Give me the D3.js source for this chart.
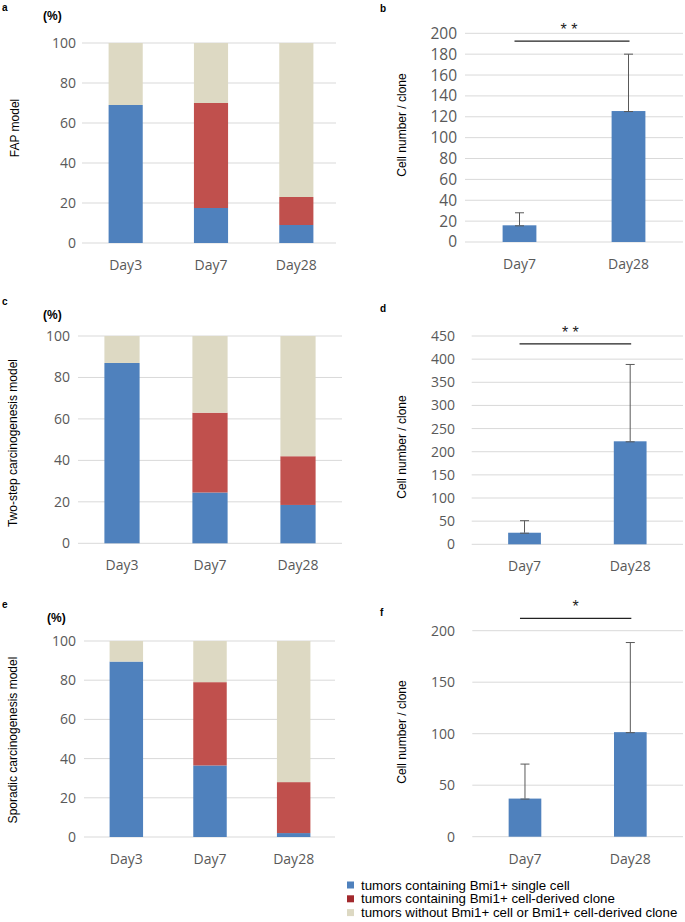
<!DOCTYPE html>
<html><head><meta charset="utf-8">
<script src="https://cdn.jsdelivr.net/npm/d3@7"></script>
<style>
html,body{margin:0;padding:0;background:#fff;}
svg{display:block;}
</style></head>
<body>
<svg id="chart" width="685" height="922"></svg>
<script>
// ---------------- DATA ----------------
const daysStacked = ["Day3", "Day7", "Day28"];
const daysBar = ["Day7", "Day28"];
const pctTicks = [0, 20, 40, 60, 80, 100];
const seriesKeys = ["single", "clone", "without"];
const legendLabels = [
  "tumors containing Bmi1+ single cell",
  "tumors containing Bmi1+ cell-derived clone",
  "tumors without Bmi1+ cell or Bmi1+ cell-derived clone"
];

// panel a: FAP model (%)
const aSingle  = [69, 17.5, 9];
const aClone   = [0, 52.5, 14];
const aWithout = [31, 30, 77];
// panel c: Two-step carcinogenesis model (%)
const cSingle  = [87, 24.5, 18.5];
const cClone   = [0, 38.5, 23.5];
const cWithout = [13, 37, 58];
// panel e: Sporadic carcinogenesis model (%)
const eSingle  = [89.5, 36.5, 2];
const eClone   = [0, 42.5, 26];
const eWithout = [10.5, 21, 72];

// panel b: cell number / clone
const bMean = [16, 125.5];
const bErr  = [12, 54.5];
const bTicks = [0, 20, 40, 60, 80, 100, 120, 140, 160, 180, 200];
const bSig = {level: 192.5, label: "* *"};
// panel d
const dMean = [25, 222.5];
const dErr  = [26, 166];
const dTicks = [0, 50, 100, 150, 200, 250, 300, 350, 400, 450];
const dSig = {level: 433, label: "* *"};
// panel f
const fMean = [37, 101.5];
const fErr  = [33.5, 87];
const fTicks = [0, 50, 100, 150, 200];
const fSig = {level: 212, label: "*"};

// ---------------- STYLE ----------------
const colors = {single: "#4f81bd", clone: "#c0504d", without: "#ddd9c3"};
const legendColors = ["#4f81bd", "#a2292d", "#ddd9c3"];
const gridColor = "#d9d9d9";
const tickColor = "#595959";
const tickFont = "'Open Sans', sans-serif";
const labelFont = "'Liberation Sans', Arial, sans-serif";

const svg = d3.select("#chart");

function letter(txt, x, y) {
  svg.append("text").attr("x", x).attr("y", y).text(txt)
    .attr("font-family", labelFont).attr("font-weight", "bold")
    .attr("font-size", 10).attr("fill", "#000");
}
function rotLabel(txt, cx, cy) {
  svg.append("text").attr("transform", `translate(${cx},${cy}) rotate(-90)`)
    .attr("text-anchor", "middle").attr("dy", "0.35em").text(txt)
    .attr("font-family", labelFont).attr("font-size", 12).attr("fill", "#000");
}
function styleAxis(ax, size) {
  ax.select(".domain").remove();
  ax.selectAll("line").remove();
  ax.selectAll("text").attr("font-family", tickFont).attr("font-size", size || 14).attr("fill", tickColor);
}

function stackedPanel(cfg, single, clone, without) {
  const g = svg.append("g");
  const x = d3.scaleBand().domain(daysStacked).range([cfg.xl, cfg.xr]).paddingInner(0.6).paddingOuter(0.3);
  const y = d3.scaleLinear().domain([0, 100]).range([cfg.yb, cfg.yt]);
  g.selectAll(".grid").data(pctTicks).join("line")
    .attr("x1", cfg.gl).attr("x2", cfg.gr)
    .attr("y1", d => y(d)).attr("y2", d => y(d))
    .attr("stroke", gridColor).attr("stroke-width", 1);
  const rows = daysStacked.map((d, i) => ({day: d, single: single[i], clone: clone[i], without: without[i]}));
  const stacked = d3.stack().keys(seriesKeys)(rows);
  g.selectAll(".layer").data(stacked).join("g").attr("fill", s => colors[s.key])
    .selectAll("rect").data(s => s).join("rect")
    .attr("x", d => x(d.data.day)).attr("width", x.bandwidth())
    .attr("y", d => y(d[1])).attr("height", d => y(d[0]) - y(d[1]));
  const ay = g.append("g").attr("transform", `translate(${cfg.tickRight},0)`)
    .call(d3.axisLeft(y).tickValues(pctTicks).tickSize(0).tickPadding(0));
  styleAxis(ay, 14);
  const ax = g.append("g").attr("transform", `translate(0,${cfg.yb})`)
    .call(d3.axisBottom(x).tickSize(0).tickPadding(17));
  styleAxis(ax, 14);
  g.append("text").attr("x", cfg.pctX).attr("y", cfg.pctY).text("(%)")
    .attr("font-family", labelFont).attr("font-weight", "bold").attr("font-size", 12).attr("fill", "#000");
  letter(cfg.letter, cfg.lx, cfg.ly);
  rotLabel(cfg.title, cfg.tx, cfg.ty);
}

function barPanel(cfg, mean, err, ticks, sig) {
  const g = svg.append("g");
  const x = d3.scaleBand().domain(daysBar).range([cfg.xl, cfg.xr]).paddingInner(0.69).paddingOuter(0.345);
  const y = d3.scaleLinear().domain([0, cfg.ymax]).range([cfg.yb, cfg.yt]);
  g.selectAll(".grid").data(ticks).join("line")
    .attr("x1", cfg.xl).attr("x2", cfg.xr)
    .attr("y1", d => y(d)).attr("y2", d => y(d))
    .attr("stroke", gridColor).attr("stroke-width", 1);
  const rows = daysBar.map((d, i) => ({day: d, mean: mean[i], err: err[i]}));
  g.selectAll(".bar").data(rows).join("rect")
    .attr("x", d => x(d.day)).attr("width", x.bandwidth())
    .attr("y", d => y(d.mean)).attr("height", d => y(0) - y(d.mean))
    .attr("fill", colors.single);
  const cx = d => x(d.day) + x.bandwidth() / 2;
  const eb = g.selectAll(".err").data(rows).join("g").attr("stroke", tickColor).attr("stroke-width", 1);
  eb.append("line").attr("x1", cx).attr("x2", cx).attr("y1", d => y(d.mean)).attr("y2", d => y(d.mean + d.err));
  eb.append("line").attr("x1", d => cx(d) - 4.5).attr("x2", d => cx(d) + 4.5)
    .attr("y1", d => y(d.mean + d.err)).attr("y2", d => y(d.mean + d.err));
  eb.append("line").attr("x1", d => cx(d) - 4.5).attr("x2", d => cx(d) + 4.5)
    .attr("y1", d => y(d.mean) + 0.5).attr("y2", d => y(d.mean) + 0.5);
  // significance
  const x1 = cx(rows[0]) - 5, x2 = cx(rows[1]) + 1;
  g.append("line").attr("x1", x1).attr("x2", x2).attr("y1", y(sig.level)).attr("y2", y(sig.level))
    .attr("stroke", "#222").attr("stroke-width", 1.2);
  g.append("text").attr("x", (x1 + x2) / 2 + cfg.starDx).attr("y", y(sig.level) - 6)
    .attr("text-anchor", "middle").text(sig.label)
    .attr("font-family", labelFont).attr("font-size", 16).attr("fill", "#222");
  const ay = g.append("g").attr("transform", `translate(${cfg.tickRight},0)`)
    .call(d3.axisLeft(y).tickValues(ticks).tickSize(0).tickPadding(0));
  styleAxis(ay, cfg.tickSize);
  const ax = g.append("g").attr("transform", `translate(0,${cfg.yb})`)
    .call(d3.axisBottom(x).tickSize(0).tickPadding(17));
  styleAxis(ax, 14);
  letter(cfg.letter, cfg.lx, cfg.ly);
  rotLabel("Cell number / clone", cfg.tx, cfg.ty);
}

stackedPanel({xl: 83, xr: 339, gl: 82, gr: 336, yb: 243, yt: 43, tickRight: 76,
  pctX: 43, pctY: 20, letter: "a", lx: 2, ly: 11, title: "FAP model", tx: 15, ty: 128},
  aSingle, aClone, aWithout);
stackedPanel({xl: 78, xr: 342, gl: 78, gr: 342, yb: 543.3, yt: 336, tickRight: 70,
  pctX: 43, pctY: 319, letter: "c", lx: 2, ly: 305, title: "Two-step carcinogenesis model", tx: 13, ty: 443},
  cSingle, cClone, cWithout);
stackedPanel({xl: 84.5, xr: 335.5, gl: 84, gr: 335, yb: 837, yt: 641, tickRight: 76,
  pctX: 47, pctY: 622, letter: "e", lx: 2, ly: 608, title: "Sporadic carcinogenesis model", tx: 13, ty: 740},
  eSingle, eClone, eWithout);

barPanel({xl: 465, xr: 683, yb: 242, yt: 33.3, ymax: 200, tickRight: 457, tickSize: 15.5,
  letter: "b", lx: 380, ly: 12, tx: 402, ty: 125, starDx: -3}, bMean, bErr, bTicks, bSig);
barPanel({xl: 471.7, xr: 683, yb: 544.3, yt: 336, ymax: 450, tickRight: 455, tickSize: 14,
  letter: "d", lx: 380, ly: 312, tx: 402, ty: 447, starDx: -5}, dMean, dErr, dTicks, dSig);
barPanel({xl: 472.3, xr: 683, yb: 836.7, yt: 630.7, ymax: 200, tickRight: 455, tickSize: 14,
  letter: "f", lx: 380, ly: 616, tx: 402, ty: 732, starDx: 0}, fMean, fErr, fTicks, fSig);

// legend
const leg = svg.append("g");
const legItems = leg.selectAll("g").data(legendLabels).join("g")
  .attr("transform", (d, i) => `translate(347,${885 + i * 13.8})`);
legItems.append("rect").attr("x", 0).attr("y", -3.5).attr("width", 7).attr("height", 7)
  .attr("fill", (d, i) => legendColors[i]);
legItems.append("text").attr("x", 14).attr("dy", "0.35em").text(d => d)
  .attr("font-family", labelFont).attr("font-size", 13.3).attr("fill", "#000");
</script>
</body></html>
